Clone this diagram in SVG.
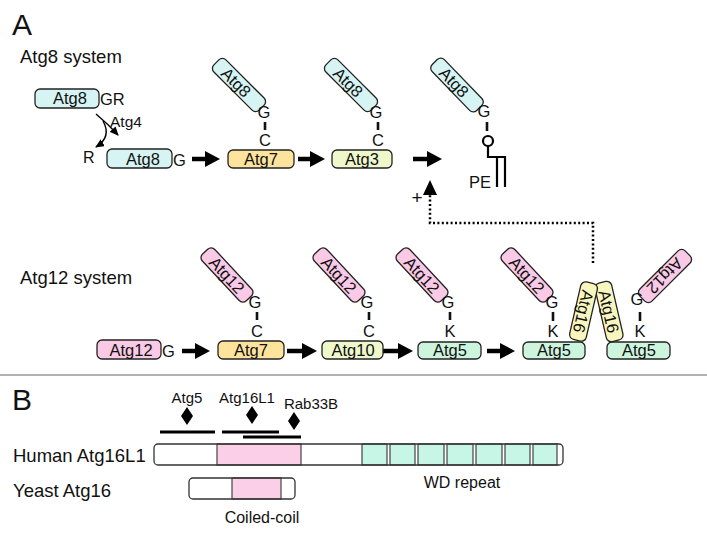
<svg xmlns="http://www.w3.org/2000/svg" width="707" height="538" viewBox="0 0 707 538">
<style>
text{font-family:"Liberation Sans",Arial,sans-serif;fill:#111}
.box{stroke:#222;stroke-width:1.3}
.lbl{font-size:16.5px;text-anchor:middle}
.res{font-size:16.5px;text-anchor:middle}
.tick{stroke:#111;stroke-width:2.6}
.big{stroke:#000;stroke-width:4.5;fill:none}
.c8{fill:#d6f4f3}.c7{fill:#fde39c}.c3{fill:#eef8cb}.c5{fill:#cdf5de}.c12{fill:#f9c9e5}.c16{fill:#f8f6bd}
.dom{stroke:#444;stroke-width:1.2}
</style>
<defs>
<marker id="ah" markerUnits="userSpaceOnUse" markerWidth="15" markerHeight="16" viewBox="0 0 15 16" refX="7" refY="8" orient="auto"><path d="M0,0 L15,8 L0,16 z" fill="#000"/></marker>
<marker id="sh" markerUnits="userSpaceOnUse" markerWidth="9" markerHeight="8" viewBox="0 0 9 8" refX="8" refY="4" orient="auto"><path d="M0,0 L9,4 L0,8 z" fill="#000"/></marker>
</defs>
<text x="12" y="35" style="font-size:30px">A</text>
<text x="20" y="63" style="font-size:18.5px">Atg8 system</text>
<text x="20" y="284" style="font-size:18.5px">Atg12 system</text>

<g id="connectors">
<path d="M96,114 Q108,124 118,135" stroke="#000" stroke-width="1.4" fill="none" marker-end="url(#sh)"/>
<path d="M103,121 Q112,137 96,147" stroke="#000" stroke-width="1.4" fill="none" marker-end="url(#sh)"/>
<line class="big" x1="192" y1="159" x2="212" y2="159" marker-end="url(#ah)"/>
<line class="big" x1="298" y1="159" x2="317" y2="159" marker-end="url(#ah)"/>
<line class="big" x1="413" y1="159" x2="434" y2="159" marker-end="url(#ah)"/>
<line class="big" x1="182" y1="351" x2="202" y2="351" marker-end="url(#ah)"/>
<line class="big" x1="287" y1="351" x2="309" y2="351" marker-end="url(#ah)"/>
<line class="big" x1="383" y1="351" x2="405" y2="351" marker-end="url(#ah)"/>
<line class="big" x1="487" y1="351" x2="507" y2="351" marker-end="url(#ah)"/>
<path d="M593,263 V223 H430 V194" stroke="#000" stroke-width="2.5" stroke-dasharray="2 2.4" fill="none"/>
<path d="M430,180 L437,195 L423,195 z" fill="#000"/>
<text x="417" y="204" style="font-size:19px;text-anchor:middle">+</text>
</g>

<g id="atg8-gr">
<rect class="box c8" x="35" y="89" width="64" height="19" rx="5"/>
<text class="lbl" x="70" y="104">Atg8</text>
<text x="100" y="105" style="font-size:16.5px">GR</text>
<text x="110" y="127" style="font-size:15.5px">Atg4</text>
<text x="83" y="163" style="font-size:16px">R</text>
</g>
<g id="atg8-g">
<rect class="box c8" x="107" y="149" width="65" height="19" rx="5"/>
<text class="lbl" x="143" y="165">Atg8</text>
<text x="173" y="166" style="font-size:16.5px">G</text>
</g>
<g id="atg7-a">
<rect class="box c7" x="228" y="150" width="66" height="18" rx="5"/>
<text class="lbl" x="261" y="165">Atg7</text>
<g transform="translate(239,85) rotate(45)"><rect class="box c8" x="-32" y="-8.5" width="64" height="17" rx="5"/><text class="lbl" x="-4" y="6">Atg8</text></g>
<text class="res" x="264" y="118">G</text>
<line class="tick" x1="265" y1="122" x2="265" y2="130"/>
<text class="res" x="265" y="146">C</text>
</g>
<g id="atg3">
<rect class="box c3" x="332" y="150" width="60" height="18" rx="5"/>
<text class="lbl" x="362" y="165">Atg3</text>
<g transform="translate(351,85) rotate(45)"><rect class="box c8" x="-32" y="-8.5" width="64" height="17" rx="5"/><text class="lbl" x="-4" y="6">Atg8</text></g>
<text class="res" x="376" y="118">G</text>
<line class="tick" x1="378" y1="122" x2="378" y2="130"/>
<text class="res" x="378" y="146">C</text>
</g>
<g id="atg8-pe">
<g transform="translate(457,85) rotate(46)"><rect class="box c8" x="-32" y="-8.5" width="64" height="17" rx="5"/><text class="lbl" x="-4" y="6">Atg8</text></g>
<text class="res" x="484" y="117">G</text>
<line class="tick" x1="487" y1="122" x2="487" y2="131"/>
<circle cx="488" cy="141" r="5" fill="#fff" stroke="#000" stroke-width="2.2"/>
<path d="M488,146 V157 H505 V187 M497,157 V187" stroke="#000" stroke-width="2.2" fill="none"/>
<text x="469" y="188" style="font-size:16.5px">PE</text>
</g>

<g id="atg12-g">
<rect class="box c12" x="97" y="340" width="64" height="19" rx="5"/>
<text class="lbl" x="131" y="356">Atg12</text>
<text x="162" y="357" style="font-size:16.5px">G</text>
</g>
<g id="atg7-b">
<rect class="box c7" x="218" y="341" width="66" height="18" rx="5"/>
<text class="lbl" x="251" y="356">Atg7</text>
<g transform="translate(227,275) rotate(47)"><rect class="box c12" x="-32" y="-8.5" width="64" height="17" rx="5"/><text class="lbl" x="0" y="6">Atg12</text></g>
<text class="res" x="255" y="308">G</text>
<line class="tick" x1="257" y1="312" x2="257" y2="320"/>
<text class="res" x="257" y="337">C</text>
</g>
<g id="atg10">
<rect class="box c3" x="322" y="341" width="61" height="18" rx="5"/>
<text class="lbl" x="353" y="356">Atg10</text>
<g transform="translate(339,275) rotate(47)"><rect class="box c12" x="-32" y="-8.5" width="64" height="17" rx="5"/><text class="lbl" x="0" y="6">Atg12</text></g>
<text class="res" x="367" y="308">G</text>
<line class="tick" x1="369" y1="312" x2="369" y2="320"/>
<text class="res" x="369" y="337">C</text>
</g>
<g id="atg5-a">
<rect class="box c5" x="418" y="342" width="63" height="17" rx="5"/>
<text class="lbl" x="450" y="356">Atg5</text>
<g transform="translate(422,275) rotate(47)"><rect class="box c12" x="-32" y="-8.5" width="64" height="17" rx="5"/><text class="lbl" x="0" y="6">Atg12</text></g>
<text class="res" x="448" y="308">G</text>
<line class="tick" x1="450" y1="312" x2="450" y2="320"/>
<text class="res" x="450" y="337">K</text>
</g>
<g id="atg5-b">
<rect class="box c5" x="523" y="342" width="62" height="17" rx="5"/>
<text class="lbl" x="554" y="356">Atg5</text>
<g transform="translate(527,275) rotate(47)"><rect class="box c12" x="-32" y="-8.5" width="64" height="17" rx="5"/><text class="lbl" x="0" y="6">Atg12</text></g>
<text class="res" x="552" y="308">G</text>
<line class="tick" x1="553" y1="312" x2="553" y2="321"/>
<text class="res" x="553" y="337">K</text>
</g>
<g id="atg5-c">
<rect class="box c5" x="607" y="342" width="63" height="17" rx="5"/>
<text class="lbl" x="639" y="356">Atg5</text>
<g transform="translate(665,276) rotate(135)"><rect class="box c12" x="-32" y="-8.5" width="64" height="17" rx="5"/><text class="lbl" x="0" y="6">Atg12</text></g>
<text class="res" x="637" y="305">G</text>
<line class="tick" x1="640" y1="312" x2="640" y2="321"/>
<text class="res" x="640" y="337">K</text>
</g>
<g id="atg16-b">
<g transform="translate(609,311.5) rotate(77)"><rect class="box c16" x="-30" y="-8.5" width="60" height="17" rx="5"/><text class="lbl" x="0" y="6">Atg16</text></g>
</g>
<g id="atg16-a">
<g transform="translate(583.5,311.5) rotate(103)"><rect class="box c16" x="-29.5" y="-8.5" width="59" height="17" rx="5"/><text class="lbl" x="0" y="6">Atg16</text></g>
</g>

<line x1="0" y1="375" x2="707" y2="375" stroke="#999" stroke-width="1.5"/>

<text x="12" y="410" style="font-size:30px">B</text>
<g id="binding">
<text x="187" y="403" style="font-size:15px;text-anchor:middle">Atg5</text>
<text x="247" y="403" style="font-size:15px;text-anchor:middle">Atg16L1</text>
<text x="311" y="409" style="font-size:15px;text-anchor:middle">Rab33B</text>
<path d="M187,407 L193,416 L187,425 L181,416 z M252,406 L258,415 L252,424 L246,415 z M294,412 L300,421 L294,430 L288,421 z" fill="#000"/>
<path d="M160,432 H215 M222,432 H279 M243,437 H301" stroke="#000" stroke-width="2.8"/>
</g>
<g id="human-atg16l1">
<text x="13" y="462" style="font-size:18.5px">Human Atg16L1</text>
<rect x="154" y="444" width="409" height="21" rx="4" fill="#fff"/>
<rect class="dom" x="217" y="444" width="84" height="21" fill="#fccfe8"/>
<g class="dom" fill="#c7f5e6">
<rect x="362" y="444" width="25" height="21"/>
<rect x="390" y="444" width="25" height="21"/>
<rect x="418" y="444" width="26" height="21"/>
<rect x="447" y="444" width="26" height="21"/>
<rect x="476" y="444" width="26" height="21"/>
<rect x="505" y="444" width="25" height="21"/>
<rect x="533" y="444" width="24" height="21"/>
</g>
<rect x="154" y="444" width="409" height="21" rx="4" fill="none" stroke="#333" stroke-width="1.3"/>
<text x="462" y="488" style="font-size:16px;text-anchor:middle">WD repeat</text>
</g>
<g id="yeast-atg16">
<text x="13" y="497" style="font-size:18.5px">Yeast Atg16</text>
<rect x="189" y="478" width="106" height="21" rx="4" fill="#fff"/>
<rect class="dom" x="232" y="478" width="49" height="21" fill="#fccfe8"/>
<rect x="189" y="478" width="106" height="21" rx="4" fill="none" stroke="#333" stroke-width="1.3"/>
<text x="262" y="523" style="font-size:16px;text-anchor:middle">Coiled-coil</text>
</g>
</svg>
